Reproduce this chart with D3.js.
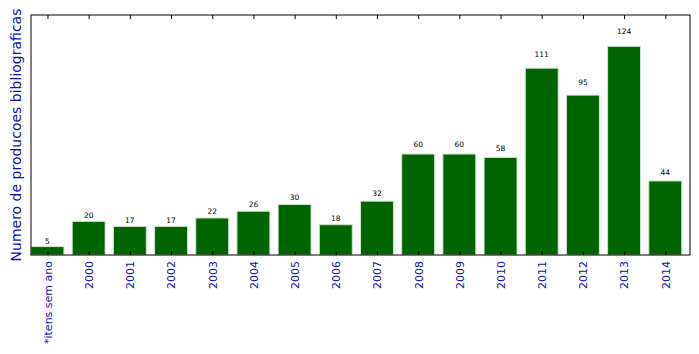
<!DOCTYPE html>
<html>
<head>
<meta charset="utf-8">
<script src="https://cdn.jsdelivr.net/npm/d3@7"></script>
<style>
  body { margin: 0; background: #fff; }
  text { font-family: "DejaVu Sans", sans-serif; }
</style>
</head>
<body>
<svg id="chart"></svg>
<script>
const categories = ["*itens sem ano", "2000", "2001", "2002", "2003", "2004", "2005", "2006",
    "2007", "2008", "2009", "2010", "2011", "2012", "2013", "2014"];
const counts = [5, 20, 17, 17, 22, 26, 30, 18, 32, 60, 60, 58, 111, 95, 124, 44];

const width = 699, height = 354;
const margin = { top: 15, right: 9, bottom: 99, left: 31 };
const innerW = width - margin.left - margin.right,
    innerH = height - margin.top - margin.bottom;
const blue = '#1111a6';

const svg = d3.select('#chart').attr('width', width).attr('height', height);
const g = svg.append('g').attr('transform', `translate(${margin.left},${margin.top})`);

// bars sit at i .. i+0.8, tick in the middle (like matplotlib bar + xticks)
const x = d3.scaleLinear().domain([0, categories.length]).range([0, innerW]);
const y = d3.scaleLinear().domain([0, d3.max(counts) * 1.15]).range([innerH, 0]);
const barW = 0.8;

g.selectAll('rect.bar')
    .data(counts)
    .join('rect')
    .attr('class', 'bar')
    .attr('x', (d, i) => x(i))
    .attr('width', x(barW) - x(0))
    .attr('y', d => y(d))
    .attr('height', d => y(0) - y(d))
    .attr('fill', '#006400')
    .attr('stroke', '#d4e4d4')
    .attr('stroke-width', 1);

// value labels above bars
g.selectAll('text.val')
    .data(counts)
    .join('text')
    .attr('class', 'val')
    .attr('x', (d, i) => x(i + barW / 2))
    .attr('y', d => y(d * 1.05) - 2)
    .attr('text-anchor', 'middle')
    .style('font-size', '7.5px')
    .attr('fill', '#000')
    .text(d => d);

// bottom axis, ticks inward
const tickPos = categories.map((c, i) => i + barW / 2);
const xAxis = d3.axisBottom(x)
    .tickValues(tickPos)
    .tickFormat((d, i) => categories[i])
    .tickSizeInner(-4)
    .tickSizeOuter(0);

const gx = g.append('g').attr('transform', `translate(0,${innerH})`).call(xAxis);
gx.select('.domain').remove();
gx.selectAll('.tick line').attr('stroke', '#000');
gx.selectAll('.tick text')
    .attr('transform', 'rotate(-90)')
    .attr('text-anchor', 'end')
    .attr('x', -6)
    .attr('y', 0)
    .attr('dy', '0.35em')
    .style('font-size', '11px')
    .attr('fill', blue);

// top ticks inward
const gTop = g.append('g').call(d3.axisTop(x).tickValues(tickPos).tickFormat('').tickSizeInner(-4).tickSizeOuter(0));
gTop.select('.domain').remove();
gTop.selectAll('.tick line').attr('stroke', '#000');

// frame
g.append('rect')
    .attr('x', 0).attr('y', 0)
    .attr('width', innerW).attr('height', innerH)
    .attr('fill', 'none')
    .attr('stroke', '#000')
    .attr('stroke-width', 1);

svg.append('text')
    .attr('transform', `translate(21,${margin.top + innerH / 2}) rotate(-90)`)
    .attr('text-anchor', 'middle')
    .style('font-size', '14px')
    .attr('fill', blue)
    .text('Numero de producoes bibliograficas');
</script>
</body>
</html>
